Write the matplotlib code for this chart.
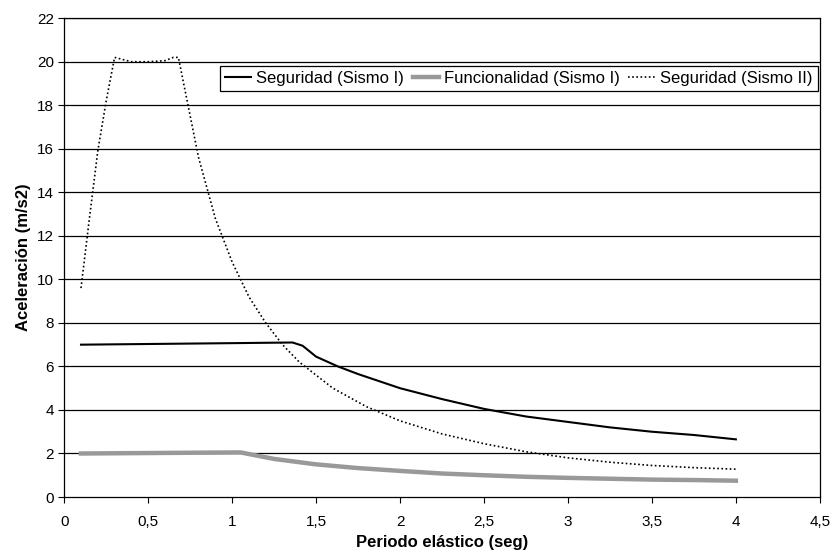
import numpy as np
import matplotlib.pyplot as plt
from matplotlib.ticker import FuncFormatter

plt.rcParams['font.family'] = ['Liberation Sans', 'DejaVu Sans']

# Seguridad (Sismo I)
t_seg1 = [0.1, 1.0, 1.36, 1.42, 1.5, 1.63, 1.75, 2.0, 2.25, 2.5, 2.75, 3.0, 3.25, 3.5, 3.75, 4.0]
a_seg1 = [7.0, 7.07, 7.1, 6.95, 6.45, 6.0, 5.65, 5.0, 4.5, 4.05, 3.7, 3.45, 3.2, 3.0, 2.85, 2.65]

# Funcionalidad (Sismo I)
t_fun1 = [0.1, 1.05, 1.25, 1.5, 1.75, 2.0, 2.25, 2.5, 2.75, 3.0, 3.25, 3.5, 3.75, 4.0]
a_fun1 = [2.0, 2.05, 1.75, 1.5, 1.33, 1.2, 1.08, 1.0, 0.93, 0.88, 0.84, 0.8, 0.78, 0.75]

# Seguridad (Sismo II)
t_seg2 = [0.1, 0.15, 0.2, 0.25, 0.3, 0.35, 0.4, 0.5, 0.6, 0.65, 0.68, 0.74, 0.8, 0.9, 1.0,
          1.1, 1.2, 1.3, 1.4, 1.5, 1.6, 1.8, 2.0, 2.25, 2.5, 2.75, 3.0, 3.25, 3.5, 3.75, 4.0]
a_seg2 = [9.6, 12.8, 15.9, 18.2, 20.2, 20.1, 20.0, 20.0, 20.05, 20.2, 20.2, 17.9, 15.6, 12.8, 10.8,
          9.2, 8.0, 7.0, 6.2, 5.6, 5.0, 4.15, 3.5, 2.9, 2.45, 2.08, 1.8, 1.6, 1.45, 1.35, 1.28]

x_ticks = [0, 0.5, 1, 1.5, 2, 2.5, 3, 3.5, 4, 4.5]
y_ticks = list(range(0, 23, 2))

fig = plt.figure(figsize=(8.34, 5.52), dpi=100)
ax = fig.add_axes([0.077, 0.0996, 0.906, 0.8674])

for y in y_ticks[1:]:
    ax.axhline(y, color='black', linewidth=0.9, zorder=1)

ax.plot(t_seg1, a_seg1, color='black', linewidth=1.5, label='Seguridad (Sismo I)', zorder=3)
ax.plot(t_fun1, a_fun1, color='#999999', linewidth=3.2, label='Funcionalidad (Sismo I)', zorder=3)
ax.plot(t_seg2, a_seg2, color='black', linewidth=1.2, linestyle=(0, (1, 1.5)),
        label='Seguridad (Sismo II)', zorder=3)

ax.set_xlim(0, 4.5)
ax.set_ylim(0, 22)
ax.set_xticks(x_ticks)
ax.set_yticks(y_ticks)
ax.xaxis.set_major_formatter(FuncFormatter(lambda v, p: f"{v:g}".replace('.', ',')))
ax.tick_params(direction='out', length=4, labelsize=11, color='black')
ax.tick_params(axis='x', pad=9)

for s in ax.spines.values():
    s.set_color('black')
    s.set_linewidth(0.9)

ax.set_xlabel('Periodo elástico (seg)', fontsize=12, fontweight='bold', labelpad=4)
ax.set_ylabel('Aceleración (m/s2)', fontsize=12, fontweight='bold')

leg = ax.legend(loc='upper right', bbox_to_anchor=(0.997, 0.90), ncol=3, fontsize=12,
                frameon=True, fancybox=False, edgecolor='black', framealpha=1,
                handlelength=1.6, handletextpad=0.3, columnspacing=0.5,
                borderpad=0.3, borderaxespad=0)
leg.get_frame().set_linewidth(0.9)

fig.savefig('out.png', dpi=100)
